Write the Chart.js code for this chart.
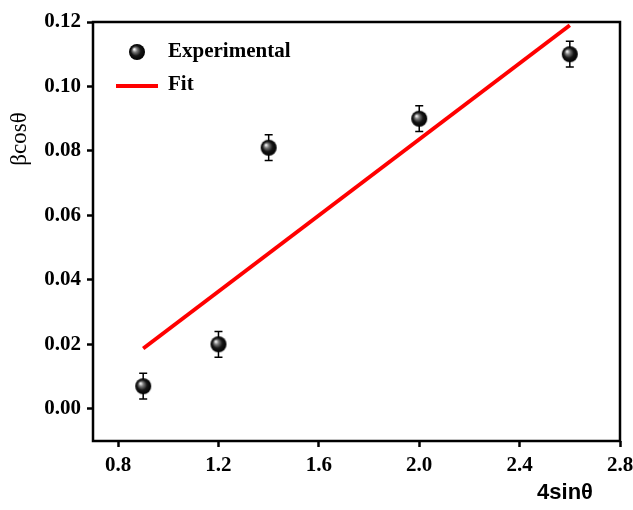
<!DOCTYPE html>
<html>
<head>
<meta charset="utf-8">
<script src="https://cdn.jsdelivr.net/npm/chart.js@4/dist/chart.umd.min.js"></script>
<style>
  html, body { margin: 0; padding: 0; background: #fff; }
  #wrap { width: 633px; height: 510px; }
</style>
</head>
<body>
<div id="wrap"><canvas id="chart" width="633" height="510"></canvas></div>
<script>
// data
const expX = [0.9, 1.2, 1.4, 2.0, 2.6];
const expY = [0.007, 0.020, 0.081, 0.090, 0.110];
const expErr = [0.004, 0.004, 0.004, 0.004, 0.004];
const fitX = [0.9, 2.6];
const fitY = [0.0187, 0.1190];
const xTicks = [0.8, 1.2, 1.6, 2.0, 2.4, 2.8];
const yTicks = [0.00, 0.02, 0.04, 0.06, 0.08, 0.10, 0.12];

const tickFont = { family: '"Liberation Serif", "Times New Roman", serif', size: 21, weight: 'bold' };

// shiny black ball used as marker
function makeBall(r) {
  const c = document.createElement('canvas');
  c.width = c.height = r * 2 + 2;
  const g = c.getContext('2d');
  const cx = r + 1, cy = r + 1;
  const grad = g.createRadialGradient(cx - r * 0.35, cy - r * 0.35, 0.5, cx, cy, r);
  grad.addColorStop(0, '#f2f2f2');
  grad.addColorStop(0.25, '#7a7a7a');
  grad.addColorStop(0.6, '#161616');
  grad.addColorStop(1, '#000');
  g.fillStyle = grad;
  g.beginPath();
  g.arc(cx, cy, r, 0, Math.PI * 2);
  g.fill();
  return c;
}
const ball = makeBall(8);

const errorBars = {
  id: 'errorBars',
  beforeDatasetsDraw(chart) {
    const { ctx, scales: { x, y } } = chart;
    ctx.save();
    ctx.strokeStyle = '#000';
    ctx.lineWidth = 1.5;
    expX.forEach((v, i) => {
      const px = x.getPixelForValue(v);
      const top = y.getPixelForValue(expY[i] + expErr[i]);
      const bot = y.getPixelForValue(expY[i] - expErr[i]);
      ctx.beginPath();
      ctx.moveTo(px, top); ctx.lineTo(px, bot);
      ctx.moveTo(px - 4, top); ctx.lineTo(px + 4, top);
      ctx.moveTo(px - 4, bot); ctx.lineTo(px + 4, bot);
      ctx.stroke();
    });
    ctx.restore();
  }
};

const frameAndText = {
  id: 'frameAndText',
  afterDraw(chart) {
    const { ctx, chartArea: a } = chart;
    ctx.save();
    ctx.strokeStyle = '#000';
    ctx.lineWidth = 2.5;
    ctx.strokeRect(a.left, a.top, a.right - a.left, a.bottom - a.top);

    // legend
    const lx = 137, ly1 = 52, ly2 = 86;
    ctx.drawImage(ball, lx - ball.width / 2, ly1 - ball.height / 2);
    ctx.strokeStyle = '#ff0000';
    ctx.lineWidth = 4;
    ctx.beginPath();
    ctx.moveTo(116, ly2); ctx.lineTo(158, ly2);
    ctx.stroke();
    ctx.fillStyle = '#000';
    ctx.font = 'bold 21px "Liberation Serif", "Times New Roman", serif';
    ctx.textBaseline = 'middle';
    ctx.textAlign = 'left';
    ctx.fillText(chart.data.datasets[1].label, 168, ly1);
    ctx.fillText(chart.data.datasets[0].label, 168, ly2 - 1);

    // axis titles
    ctx.font = 'bold 22px "Liberation Sans", Arial, sans-serif';
    ctx.textAlign = 'center';
    ctx.fillText('4sinθ', 565, 493);
    ctx.translate(20, 139);
    ctx.rotate(-Math.PI / 2);
    ctx.font = '23px "Liberation Serif", "Times New Roman", serif';
    ctx.fillText('βcosθ', 0, 0);
    ctx.restore();
  }
};

new Chart(document.getElementById('chart'), {
  type: 'scatter',
  data: {
    datasets: [
      {
        label: 'Fit',
        data: fitX.map((v, i) => ({ x: v, y: fitY[i] })),
        showLine: true,
        borderColor: '#ff0000',
        borderWidth: 4,
        pointRadius: 0,
        order: 2
      },
      {
        label: 'Experimental',
        data: expX.map((v, i) => ({ x: v, y: expY[i] })),
        pointStyle: ball,
        pointRadius: 8,
        order: 1
      }
    ]
  },
  options: {
    responsive: false,
    animation: false,
    layout: { padding: { top: 22, right: 0, left: 0, bottom: 0 } },
    plugins: { legend: { display: false }, tooltip: { enabled: false } },
    scales: {
      x: {
        type: 'linear',
        min: 0.7,
        max: 2.8,
        afterBuildTicks: s => { s.ticks = xTicks.map(v => ({ value: v })); },
        afterFit: s => { s.height = 69; s.paddingRight = 13; },
        grid: { drawOnChartArea: false, tickLength: 6, tickWidth: 2.5, tickColor: '#000' },
        border: { display: false },
        ticks: { color: '#000', font: tickFont, padding: 6, maxRotation: 0, callback: v => v.toFixed(1) }
      },
      y: {
        type: 'linear',
        min: -0.01,
        max: 0.12,
        afterBuildTicks: s => { s.ticks = yTicks.map(v => ({ value: v })); },
        afterFit: s => { s.width = 93; },
        grid: { drawOnChartArea: false, tickLength: 6, tickWidth: 2.5, tickColor: '#000' },
        border: { display: false },
        ticks: { color: '#000', font: tickFont, padding: 6, callback: v => v.toFixed(2) }
      }
    }
  },
  plugins: [errorBars, frameAndText]
});
</script>
</body>
</html>
